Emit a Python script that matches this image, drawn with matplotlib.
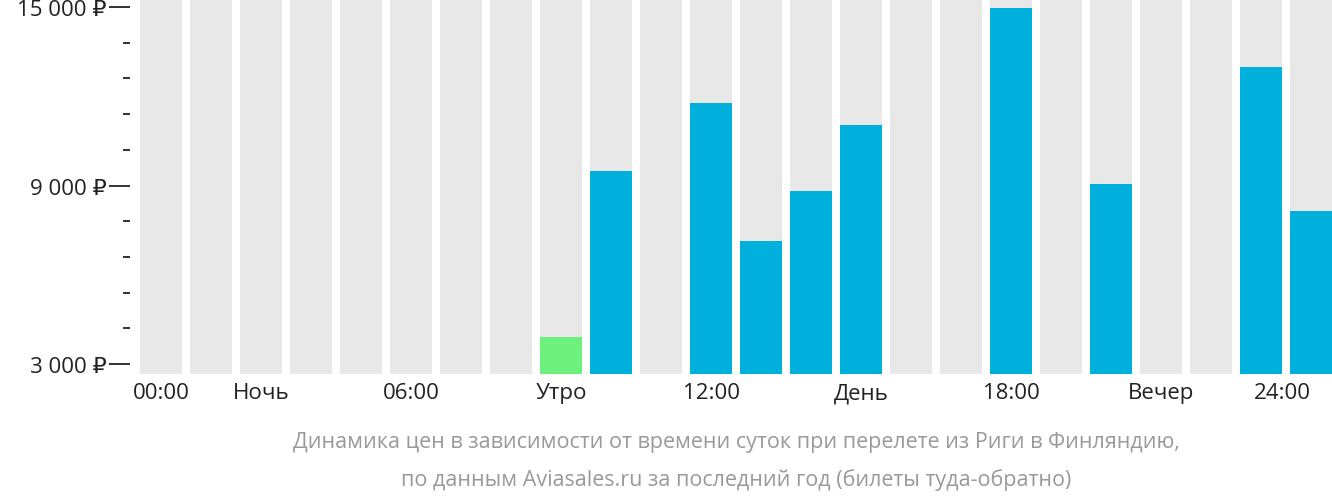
import matplotlib
matplotlib.use('Agg')
import matplotlib.pyplot as plt
import numpy as np

plt.rcParams['font.family'] = 'Open Sans'

# price per hour slot (rubles), None = no data
slots = list(range(24))
prices = [None, None, None, None, None, None, None, None, 3900, 9490, None, 11770,
          7130, 8815, 11030, None, None, 14960, None, 9050, None, None, 12980, 8140]
cheapest_slot = 8
xtick_slots = [0, 2, 5, 8, 11, 14, 17, 20, 23]
xtick_labels = ['00:00', 'Ночь', '06:00', 'Утро', '12:00', 'День', '18:00', 'Вечер', '24:00']
ytick_major = [3000, 9000, 15000]
ytick_labels = ['3 000 ₽', '9 000 ₽', '15 000 ₽']

fig = plt.figure(figsize=(13.32, 5.02), dpi=100)
ax = fig.add_axes([130 / 1332, 127 / 502, 1 - 130 / 1332, 1 - 127 / 502])

ymin, ymax = 2664, 15270
bw = 42 / 50
ax.bar(slots, [ymax - ymin] * 24, bottom=ymin, width=bw, color='#e8e8e8', align='edge')
for s, p in zip(slots, prices):
    if p is None:
        continue
    c = '#6ef07f' if s == cheapest_slot else '#00b0dc'
    ax.bar(s, p - ymin, bottom=ymin, width=bw, color=c, align='edge')

ax.set_xlim(-0.2, 24 - (1 - bw))
ax.set_ylim(ymin, ymax)
for sp in ax.spines.values():
    sp.set_visible(False)
ax.set_xticks([s + bw / 2 for s in xtick_slots])
ax.set_xticklabels(xtick_labels, fontsize=16, color='#222222')
ax.get_xticklabels()[-1].set_horizontalalignment('right')
ax.get_xticklabels()[-1].set_x(24 - (1 - bw))
ax.tick_params(axis='x', length=0, pad=6)
ax.set_yticks(ytick_major)
ax.set_yticklabels(ytick_labels, fontsize=16, color='#222222', family='DejaVu Sans')
for lab in ax.get_yticklabels():
    lab.set_fontfamily(['Open Sans', 'DejaVu Sans'])
ax.set_yticks(np.arange(3000, 15001, 1200), minor=True)
ax.tick_params(axis='y', which='major', length=15, width=1.3, color='#222222', pad=2)
ax.tick_params(axis='y', which='minor', length=5, width=1.3, color='#222222')

fig.text(0.553, 1 - 443 / 502, 'Динамика цен в зависимости от времени суток при перелете из Риги в Финляндию,',
         ha='center', va='center', fontsize=15.5, color='#999999')
fig.text(0.553, 1 - 480 / 502, 'по данным Aviasales.ru за последний год (билеты туда-обратно)',
         ha='center', va='center', fontsize=15.5, color='#999999')

fig.savefig('out.png', dpi=100)
